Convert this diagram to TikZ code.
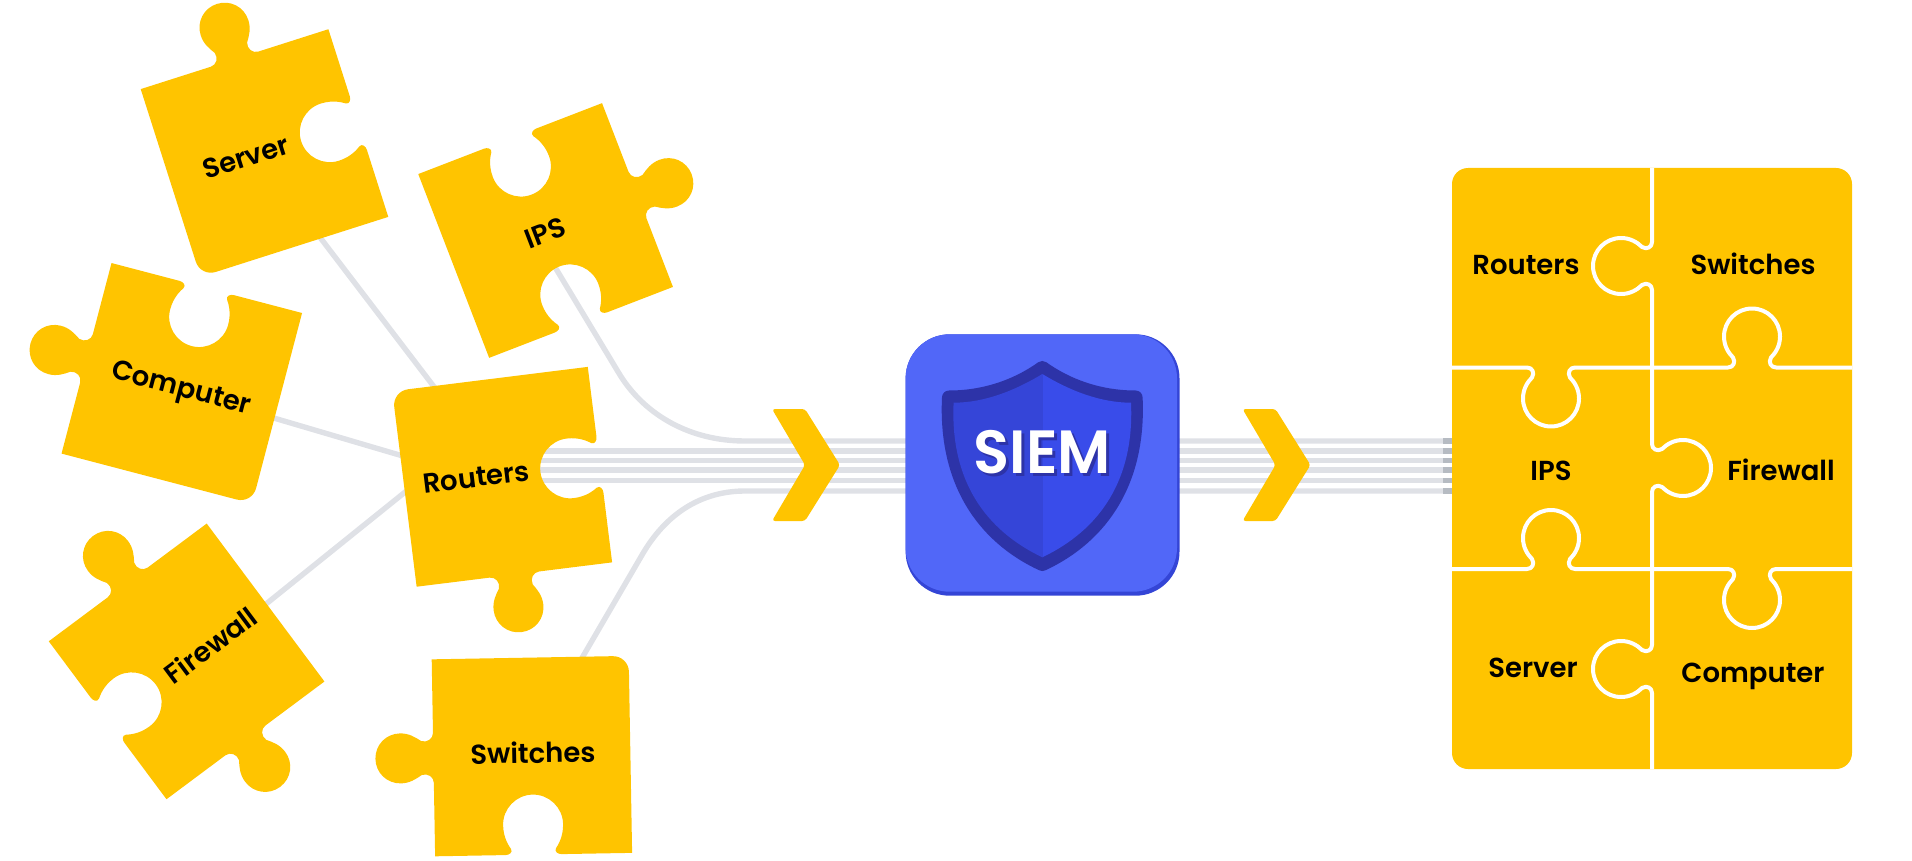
\documentclass[tikz,border=0pt]{standalone}
\usepackage{fontspec}
\setmainfont{Poppins SemiBold}
\newfontfamily\siemfont{Poppins SemiBold}
\definecolor{puzzle}{HTML}{FFC400}
\definecolor{wire}{HTML}{DFE1E6}
\definecolor{wiredark}{HTML}{B6BBC2}
\definecolor{boxblue}{HTML}{5167F8}
\definecolor{boxshade}{HTML}{3445D6}
\definecolor{shieldrim}{HTML}{2D33A8}
\definecolor{shieldl}{HTML}{3545D8}
\definecolor{shieldr}{HTML}{394CEA}
\tikzset{
  x=1pt,y=-1pt,
  wireline/.style={draw=wire,line width=5.4pt},
  wiretail/.style={draw=wiredark,line width=5.4pt},
  tile/.style={fill=puzzle},
  seam/.style={draw=white,line width=4pt,line join=round},
  chevron/.style={fill=puzzle,rounded corners=3pt},
  caption/.style={inner sep=0pt,text height=20pt,text depth=0pt,font=\fontsize{27.5}{30}\selectfont,text=black},
  looselabel/.style={caption,transform shape},
  siemtext/.style={inner sep=0pt,font=\siemfont\fontsize{61}{63}\selectfont,xscale=.97,transform shape},
}
% one point of a knob in a frame given as TikZ options
\newcommand\kc[3]{([#1]#2,#3)}
% the seam of the assembled puzzle
\newcommand\knobp[1]{-- \kc{#1}{-24}{0}
 .. controls \kc{#1}{-19}{0} and \kc{#1}{-16}{-5} .. \kc{#1}{-19}{-10}
 .. controls \kc{#1}{-24}{-15} and \kc{#1}{-28}{-22} .. \kc{#1}{-28}{-31}
 .. controls \kc{#1}{-28}{-46.5} and \kc{#1}{-15.5}{-59} .. \kc{#1}{0}{-59}
 .. controls \kc{#1}{15.5}{-59} and \kc{#1}{28}{-46.5} .. \kc{#1}{28}{-31}
 .. controls \kc{#1}{28}{-22} and \kc{#1}{24}{-15} .. \kc{#1}{19}{-10}
 .. controls \kc{#1}{16}{-5} and \kc{#1}{19}{0} .. \kc{#1}{24}{0}}
% the tab of a loose piece
\newcommand\tabp[1]{-- \kc{#1}{-25}{0}
 .. controls \kc{#1}{-19}{0} and \kc{#1}{-15}{-6} .. \kc{#1}{-17}{-12}
 .. controls \kc{#1}{-21}{-18} and \kc{#1}{-25}{-24} .. \kc{#1}{-25}{-33}
 .. controls \kc{#1}{-25}{-47} and \kc{#1}{-14}{-58} .. \kc{#1}{0}{-58}
 .. controls \kc{#1}{14}{-58} and \kc{#1}{25}{-47} .. \kc{#1}{25}{-33}
 .. controls \kc{#1}{25}{-24} and \kc{#1}{21}{-18} .. \kc{#1}{17}{-12}
 .. controls \kc{#1}{15}{-6} and \kc{#1}{19}{0} .. \kc{#1}{25}{0}}
% the notch of a loose piece
\newcommand\notchp[1]{-- \kc{#1}{-28}{0}
 .. controls \kc{#1}{-24.5}{0} and \kc{#1}{-20.5}{2.5} .. \kc{#1}{-22.5}{6}
 .. controls \kc{#1}{-24.5}{9} and \kc{#1}{-30}{17} .. \kc{#1}{-30}{30}
 .. controls \kc{#1}{-30}{46.5} and \kc{#1}{-16.5}{60} .. \kc{#1}{0}{60}
 .. controls \kc{#1}{16.5}{60} and \kc{#1}{30}{46.5} .. \kc{#1}{30}{30}
 .. controls \kc{#1}{30}{17} and \kc{#1}{24.5}{9} .. \kc{#1}{22.5}{6}
 .. controls \kc{#1}{20.5}{2.5} and \kc{#1}{24.5}{0} .. \kc{#1}{28}{0}}
% edges of a loose piece (half size 98.5), clockwise
\newcommand\topT{\tabp{shift={(0,-98.5)}}}
\newcommand\topN{\notchp{shift={(0,-98.5)}}}
\newcommand\rightT{\tabp{shift={(98.5,0)},rotate=-90}}
\newcommand\rightN{\notchp{shift={(98.5,0)},rotate=-90}}
\newcommand\bottomT{\tabp{shift={(0,98.5)},rotate=180}}
\newcommand\bottomN{\notchp{shift={(0,98.5)},rotate=180}}
\newcommand\leftT{\tabp{shift={(-98.5,0)},rotate=90}}
\newcommand\leftN{\notchp{shift={(-98.5,0)},rotate=90}}
\begin{document}
\begin{tikzpicture}
\useasboundingbox (0,0) rectangle (1912,861);
% named ports hidden under the pieces
\coordinate (srvport) at (290,198);
\coordinate (srvhub) at (470,434);
\coordinate (cmpport) at (250,411);
\coordinate (cmphub) at (430,464);
\coordinate (fwport) at (230,633);
\coordinate (fwhub) at (430,472);
\coordinate (ipsport) at (545,250.5);
\coordinate (ipsbend) at (620,375);
\coordinate (swport) at (575,670);
\coordinate (swbend) at (642,555);
\coordinate (rtA) at (530,451);
\coordinate (rtB) at (530,460.5);
\coordinate (rtC) at (530,470);
\coordinate (rtD) at (530,480.5);
\coordinate (gridA) at (1452,441);
\coordinate (gridB) at (1452,451);
\coordinate (gridC) at (1452,460.5);
\coordinate (gridD) at (1452,470);
\coordinate (gridE) at (1452,480.5);
\coordinate (gridF) at (1452,491);
% connectors
\draw[wireline] (srvport) -- (srvhub);
\draw[wireline] (cmpport) -- (cmphub);
\draw[wireline] (fwport) -- (fwhub);
\draw[wireline] (ipsport) -- (ipsbend) .. controls (645,415) and (690,441) .. (745,441) -- (gridA);
\draw[wireline] (swport) -- (swbend) .. controls (665,515) and (700,491) .. (745,491) -- (gridF);
\draw[wireline] (rtA) -- (gridB);
\draw[wireline] (rtB) -- (gridC);
\draw[wireline] (rtC) -- (gridD);
\draw[wireline] (rtD) -- (gridE);
\foreach \g in {gridA,gridB,gridC,gridD,gridE,gridF}
  \draw[wiretail] (\g) -- ++(-9,0);
% chevrons
\fill[chevron] (772,409) -- (805,409) -- (840,465) -- (805,521) -- (772,521) -- (805,465) -- cycle;
\fill[chevron] (1242.5,409) -- (1275.5,409) -- (1310.5,465) -- (1275.5,521) -- (1242.5,521) -- (1275.5,465) -- cycle;
% SIEM box
\fill[boxshade,rounded corners=44pt] (905.6,334.3) rectangle (1179.5,595.7);
\fill[boxblue,rounded corners=44pt] (905.6,334.3) rectangle (1177,591.7);
% shield
\draw[shieldrim,line width=14pt,line join=round,fill=shieldrim]
  (1042.3,368) .. controls (1017,386) and (985,397.5) .. (949,397.5)
  .. controls (945,480) and (982,536) .. (1042.3,564)
  .. controls (1102.6,536) and (1139.6,480) .. (1135.6,397.5)
  .. controls (1099.6,397.5) and (1067.6,386) .. cycle;
\fill[shieldl] (1042.3,374) .. controls (1016,390) and (985,402.7) .. (953.6,402.7)
  .. controls (950,480) and (985,530) .. (1042.3,557.3) -- cycle;
\fill[shieldr] (1042.3,374) .. controls (1068.6,390) and (1099.6,402.7) .. (1131,402.7)
  .. controls (1134.6,480) and (1099.6,530) .. (1042.3,557.3) -- cycle;
\node[siemtext,text=shieldrim] (siemshade) at (1045.3,454.7) {SIEM};
\node[siemtext,text=white] (siem) at (1042.3,451.7) {SIEM};
% assembled puzzle
\fill[tile,rounded corners=16pt] (1452,168) rectangle (1852,769);
\draw[seam] (1652,168) \knobp{shift={(1652,266)},rotate=-90,yscale=-1} \knobp{shift={(1652,468)},rotate=-90} \knobp{shift={(1652,669)},rotate=-90,yscale=-1} -- (1652,769);
\draw[seam] (1452,367.5) \knobp{shift={(1551,367.5)},yscale=-1} \knobp{shift={(1752,367.5)}} -- (1852,367.5);
\draw[seam] (1452,569) \knobp{shift={(1551,569)}} \knobp{shift={(1752,569)},yscale=-1} -- (1852,569);
\node[caption] (gRouters) at (1526,264) {Routers};
\node[caption] (gSwitches) at (1753,264) {Switches};
\node[caption] (gIPS) at (1551,470.3) {IPS};
\node[caption] (gFirewall) at (1781,470.3) {Firewall};
\node[caption] (gServer) at (1533,667) {Server};
\node[caption] (gComputer) at (1753,672) {Computer};
% loose pieces
\begin{scope}[shift={(264.5,153)},rotate=17.7]
  \fill[tile] (-98.5,-98.5) \topT -- (98.5,-98.5) \rightN -- (98.5,98.5) -- (-82.5,98.5) .. controls (-91.5,98.5) and (-98.5,91.5) .. (-98.5,82.5) -- cycle;
  \node[looselabel] (pServer) at (-19,-2) {Server};
\end{scope}
\begin{scope}[shift={(545.6,230.5)},rotate=21.1]
  \fill[tile] (-98.5,-98.5) \topN -- (98.5,-98.5) \rightT -- (98.5,98.5) \bottomN -- (-98.5,98.5) -- cycle;
  \node[looselabel] (pIPS) at (-1,2) {IPS};
\end{scope}
\begin{scope}[shift={(181.8,383.3)},rotate=-14.7]
  \fill[tile] (-98.5,-98.5) \topN -- (98.5,-98.5) -- (98.5,82.5) .. controls (98.5,91.5) and (91.5,98.5) .. (82.5,98.5) -- (-98.5,98.5) \leftT -- cycle;
  \node[looselabel] (pComputer) at (1,3) {Computer};
\end{scope}
\begin{scope}[shift={(502.2,476.8)},rotate=7.1]
  \fill[tile] (-82.5,-98.5) -- (98.5,-98.5) \rightN -- (98.5,98.5) \bottomT -- (-98.5,98.5) -- (-98.5,-82.5) .. controls (-98.5,-91.5) and (-91.5,-98.5) .. (-82.5,-98.5) -- cycle;
  \node[looselabel] (pRouters) at (-26,-3) {Routers};
\end{scope}
\begin{scope}[shift={(186.6,661.4)},rotate=36.7]
  \fill[tile] (-98.5,-98.5) \topT -- (98.5,-98.5) -- (98.5,98.5) \bottomT -- (-98.5,98.5) \leftN -- cycle;
  \node[looselabel] (pFirewall) at (29,2) {Firewall};
\end{scope}
\begin{scope}[shift={(531.9,756.1)},rotate=1]
  \fill[tile] (-98.5,-98.5) -- (82.5,-98.5) .. controls (91.5,-98.5) and (98.5,-91.5) .. (98.5,-82.5) -- (98.5,98.5) \bottomN -- (-98.5,98.5) \leftT -- cycle;
  \node[looselabel] (pSwitches) at (1,-3) {Switches};
\end{scope}
\end{tikzpicture}
\end{document}
